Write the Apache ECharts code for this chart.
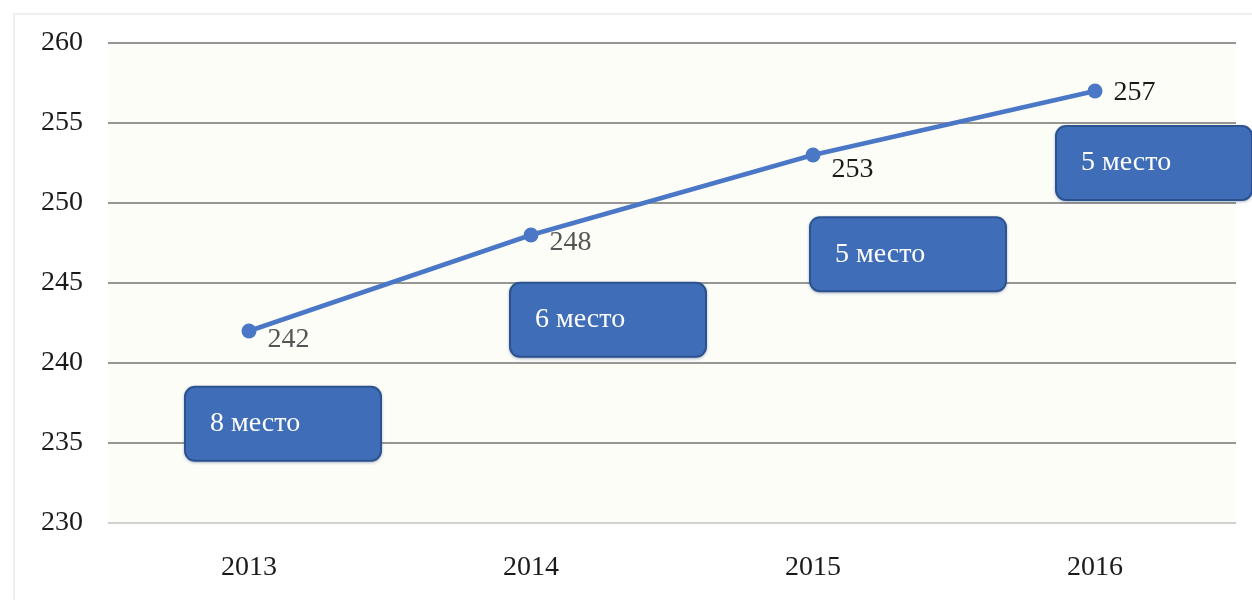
<!DOCTYPE html>
<html>
<head>
<meta charset="utf-8">
<title>Место в рейтинге</title>
<script src="https://cdn.jsdelivr.net/npm/echarts@6/dist/echarts.min.js"></script>
<style>
  html, body { margin: 0; padding: 0; background: #ffffff; }
  #chart { width: 1252px; height: 600px; }
</style>
</head>
<body>
<div id="chart"></div>
<script>
// Years on the category axis
const years = ['2013', '2014', '2015', '2016'];
// Indicator value for each year
const values = [242, 248, 253, 257];
// Place in the ranking for each year
const ranks = ['8 место', '6 место', '5 место', '5 место'];
// Value-axis ticks
const yMin = 230;
const yMax = 260;
const yStep = 5;

// Layout of the callouts: value-axis level of the box centre and
// horizontal shift of the box's left edge from the category centre (px)
const boxLevel = [236.2, 242.7, 246.8, 252.5];
const boxShift = [-63, -20, -2, -38];
// Value label offsets (px) and colours
const valueLabelOffset = [[0, 9], [0, 8], [0, 15], [0, 2]];
const valueLabelColor = ['#555555', '#555555', '#1a1a1a', '#1a1a1a'];

const serif = '"Liberation Serif", "DejaVu Serif", serif';
const chart = echarts.init(document.getElementById('chart'), null, { renderer: 'canvas' });

const option = {
  backgroundColor: '#ffffff',
  animation: false,
  graphic: [{
    type: 'rect',
    shape: { x: 14, y: 14, width: 1300, height: 700 },
    style: { fill: 'none', stroke: '#f0f0f0', lineWidth: 2 },
    silent: true,
    z: -1
  }],
  grid: {
    left: 108, right: 16, top: 43, bottom: 77,
    show: true, backgroundColor: '#fdfdf8', borderWidth: 0
  },
  xAxis: {
    type: 'category',
    data: years,
    boundaryGap: true,
    axisLine: { show: true, lineStyle: { color: '#e6e6e6', width: 1.5 } },
    axisTick: { show: false },
    axisLabel: { color: '#1a1a1a', fontFamily: serif, fontSize: 28, margin: 31 }
  },
  yAxis: {
    type: 'value',
    min: yMin, max: yMax, interval: yStep,
    axisLine: { show: false },
    axisTick: { show: false },
    axisLabel: { color: '#1a1a1a', fontFamily: serif, fontSize: 28, margin: 25 },
    splitLine: { lineStyle: { color: '#737373', width: 1.5 } }
  },
  series: [
    {
      type: 'line',
      data: values.map((v, i) => ({
        value: v,
        label: { offset: valueLabelOffset[i], color: valueLabelColor[i] }
      })),
      symbol: 'circle',
      symbolSize: 15,
      lineStyle: { color: '#4a78c6', width: 4.5 },
      itemStyle: { color: '#4a78c6' },
      label: {
        show: true,
        position: 'right',
        distance: 11,
        fontFamily: serif,
        fontSize: 28
      },
      z: 3
    },
    {
      type: 'scatter',
      symbolSize: 0,
      itemStyle: { opacity: 1 },
      data: ranks.map((r, i) => ({
        value: [years[i], boxLevel[i]],
        name: r,
        label: { position: [boxShift[i], 0] }
      })),
      label: {
        show: true,
        opacity: 1,
        formatter: p => p.name,
        align: 'left',
        verticalAlign: 'middle',
        color: '#ffffff',
        fontFamily: serif,
        fontSize: 28,
        backgroundColor: '#3f6db8',
        borderColor: '#2d5592',
        borderWidth: 2,
        borderRadius: 9,
        width: 168,
        height: 70,
        lineHeight: 70,
        padding: [0, 2, 2, 24],
        shadowColor: 'rgba(40,70,120,0.35)',
        shadowBlur: 3,
        shadowOffsetY: 1
      },
      silent: true,
      z: 5
    }
  ]
};

chart.setOption(option);
</script>
</body>
</html>
